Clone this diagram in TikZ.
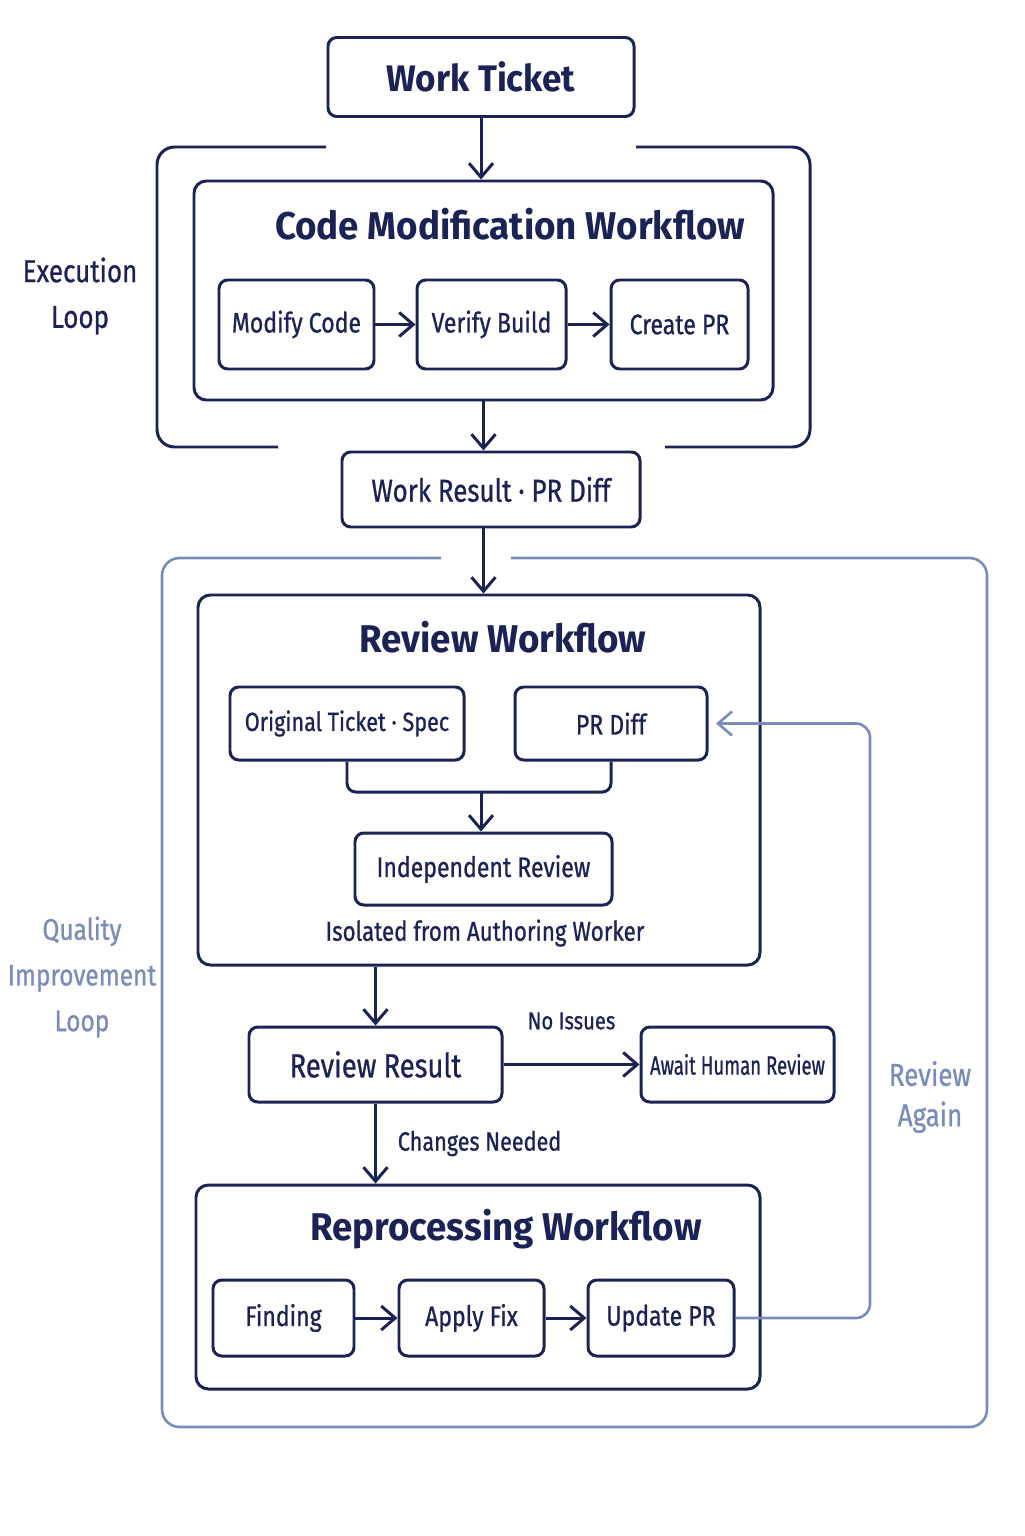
\documentclass[tikz,border=0pt]{standalone}
\usepackage{fontspec}
\setmainfont{Fira Sans}[FakeStretch=0.82, UprightFeatures={FakeBold=0.8}]
\newfontfamily\headfont{Fira Sans}[FakeStretch=0.95]
\usetikzlibrary{arrows.meta}

\definecolor{navy}{HTML}{1B2255}
\definecolor{loopblue}{HTML}{7A8DB8}

\begin{document}
\begin{tikzpicture}[
  line width=1.7pt, color=navy,
  >={Straight Barb[length=2.8mm,width=4.8mm]},
  box/.style={draw, rounded corners=5pt, inner sep=0pt, align=center},
  stepbox/.style={box, font=\fontsize{16}{19}\selectfont},
  wfbox/.style={draw, rounded corners=7pt},
  wftitle/.style={font=\headfont\fontsize{22}{26}\selectfont\bfseries},
  note/.style={font=\fontsize{15}{18}\selectfont},
  looptext/.style={font=\fontsize{18}{26}\selectfont, align=center},
  qloop/.style={draw=loopblue, line width=1.5pt, rounded corners=10pt},
]
  \useasboundingbox (0,0) rectangle (20.48,-30.72);

  % --- ticket and execution loop ---
  \node[box, minimum width=6.12cm, minimum height=1.58cm,
        font=\headfont\fontsize{21}{26}\selectfont\bfseries] (ticket) at (9.62,-1.54) {Work Ticket};
  % bracket split around the in/out arrows
  \draw[rounded corners=10pt] (6.52,-2.94) -- (3.14,-2.94) -- (3.14,-8.94) -- (5.56,-8.94);
  \draw[rounded corners=10pt] (12.72,-2.94) -- (16.2,-2.94) -- (16.2,-8.94) -- (13.3,-8.94);
  \node[looptext] (execlbl) at (1.6,-5.92) {Execution\\Loop};

  \node[wfbox, minimum width=11.58cm, minimum height=4.38cm] (codewf) at (9.67,-5.81) {};
  \node[wftitle] (codetitle) at (10.2,-4.48) {Code Modification Workflow};
  \node[stepbox, minimum width=3.1cm,  minimum height=1.78cm] (modify)   at (5.93,-6.49)  {Modify Code};
  \node[stepbox, minimum width=2.98cm, minimum height=1.78cm] (verify)   at (9.83,-6.49)  {Verify Build};
  \node[stepbox, minimum width=2.74cm, minimum height=1.78cm] (createpr) at (13.59,-6.49) {Create PR};
  \draw[->] (modify) -- (verify);
  \draw[->] (verify) -- (createpr);
  \draw[->] (ticket) -- (ticket |- codewf.north);

  \node[box, minimum width=5.96cm, minimum height=1.5cm,
        font=\fontsize{18}{22}\selectfont] (result) at (9.82,-9.79) {Work Result · PR Diff};
  \draw[->] (codewf.south) -- (codewf.south |- result.north);

  % --- quality improvement loop ---
  \draw[qloop] (8.82,-11.16) -- (3.24,-11.16) -- (3.24,-28.54) -- (19.74,-28.54)
    -- (19.74,-11.16) -- (10.22,-11.16);
  \node[looptext, font=\fontsize{17}{26}\selectfont, text=loopblue] (qlbl) at (1.64,-19.54) {Quality\\Improvement\\Loop};

  \node[wfbox, minimum width=11.24cm, minimum height=7.4cm] (reviewwf) at (9.58,-15.6) {};
  \draw[->] (codewf.south |- result.south) -- (codewf.south |- reviewwf.north);
  \node[wftitle] (reviewtitle) at (10.06,-12.74) {Review Workflow};
  \node[stepbox, minimum width=4.68cm, minimum height=1.46cm,
        font=\fontsize{15}{18}\selectfont] (spec) at (6.94,-14.47) {Original Ticket · Spec};
  \node[stepbox, minimum width=3.84cm, minimum height=1.46cm] (prdiff) at (12.22,-14.47) {PR Diff};
  \coordinate (join) at (9.62,-15.84);
  \draw[rounded corners=5pt] (spec.south) |- (join) -| (prdiff.south);
  \node[stepbox, minimum width=5.14cm, minimum height=1.44cm] (indep) at (9.67,-17.38) {Independent Review};
  \draw[->] (join) -- (join |- indep.north);
  \node[note, font=\fontsize{15.5}{18}\selectfont] (isolated) at (9.7,-18.66) {Isolated from Authoring Worker};

  \node[box, minimum width=5.06cm, minimum height=1.5cm,
        font=\fontsize{19}{22}\selectfont] (rresult) at (7.51,-21.29) {Review Result};
  \draw[->] (rresult.north |- reviewwf.south) -- (rresult.north);
  \node[stepbox, minimum width=3.86cm, minimum height=1.5cm,
        font=\fontsize{15}{18}\selectfont] (human) at (14.75,-21.29) {\scalebox{0.86}[1]{Await Human Review}};
  \draw[->] (rresult) -- (human) node[note, font=\fontsize{14}{17}\selectfont, midway, yshift=0.87cm] {No Issues};

  \node[wfbox, minimum width=11.28cm, minimum height=4.08cm] (reprocwf) at (9.56,-25.74) {};
  \draw[->] (rresult) -- (rresult |- reprocwf.north)
    node[note, midway, anchor=west, xshift=0.3cm] {Changes Needed};
  \node[wftitle] (reproctitle) at (10.12,-24.58) {Reprocessing Workflow};
  \node[stepbox, minimum width=2.82cm, minimum height=1.52cm] (finding)  at (5.67,-26.36)  {Finding};
  \node[stepbox, minimum width=2.9cm,  minimum height=1.52cm] (applyfix) at (9.43,-26.36)  {Apply Fix};
  \node[stepbox, minimum width=2.92cm, minimum height=1.52cm] (updatepr) at (13.22,-26.36) {Update PR};
  \draw[->] (finding) -- (applyfix);
  \draw[->] (applyfix) -- (updatepr);

  % back to the diff for another pass
  \coordinate (againx) at (17.4,0);
  \draw[loopblue, line width=1.5pt, ->, rounded corners=8pt, shorten >=0.15cm]
    (updatepr.east) -| (againx |- prdiff.east) -- (prdiff.east);
  \node[looptext, font=\fontsize{18}{23}\selectfont, text=loopblue] (againlbl) at (18.6,-21.94) {Review\\Again};
\end{tikzpicture}
\end{document}
